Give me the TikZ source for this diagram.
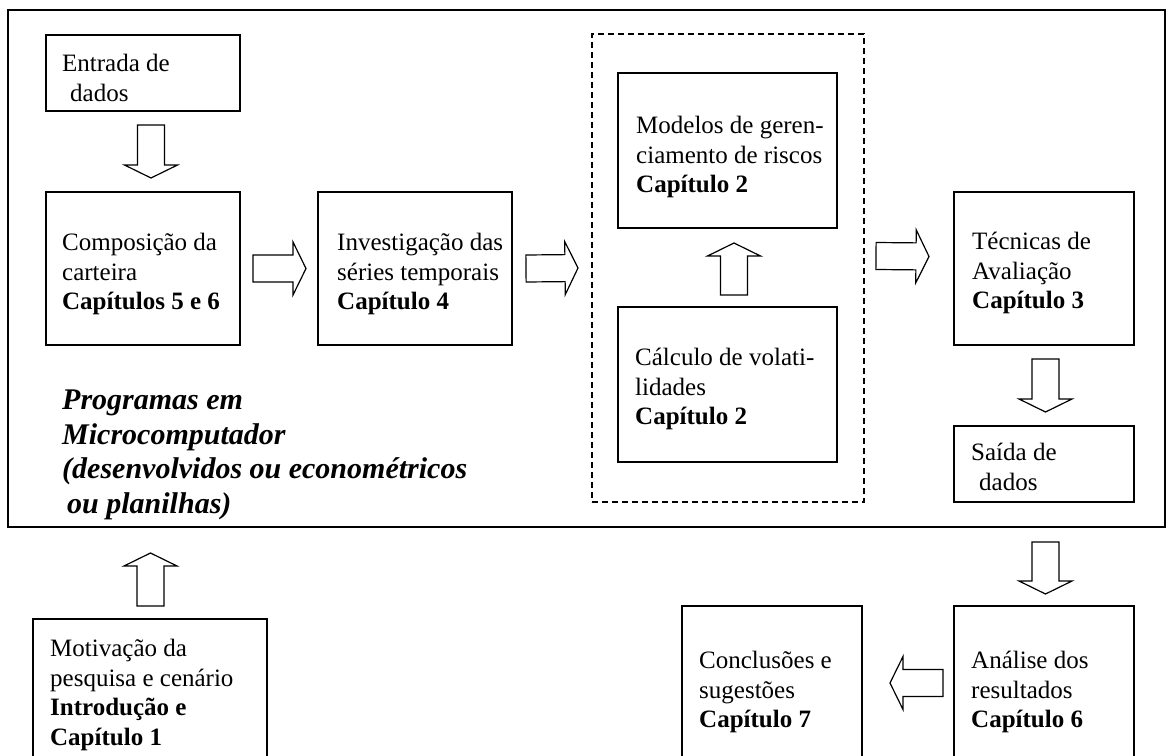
\documentclass[tikz,border=0pt]{standalone}
\usepackage{fontspec}
\setmainfont{Liberation Serif}
\usetikzlibrary{calc}
\tikzset{
  box/.style={draw, line width=1.2bp, inner sep=0pt, outer sep=0pt},
  dashbox/.style={draw, line width=2bp, dash pattern=on 6bp off 4bp, inner sep=0pt, outer sep=0pt},
  txt/.style={anchor=west, align=left, inner sep=0pt, font=\fontsize{25bp}{29.5bp}\selectfont},
  progtxt/.style={anchor=west, align=left, inner sep=0pt, font=\fontsize{30bp}{34.5bp}\selectfont\bfseries\itshape},
  blockarr/.style={draw, fill=white, line width=1.2bp, line join=miter},
}
\newcommand\blockarrow[2]{%
  \coordinate (ahbase) at ($(#2)!13bp!(#1)$);
  \draw[blockarr] ($(#1)!13.5bp!90:(#2)$) -- ($(ahbase)!13.5bp!-90:(#1)$) -- ($(ahbase)!26.5bp!-90:(#1)$) -- (#2) -- ($(ahbase)!26.5bp!90:(#1)$) -- ($(ahbase)!13.5bp!90:(#1)$) -- ($(#1)!13.5bp!-90:(#2)$) -- cycle;}
\begin{document}
\begin{tikzpicture}[x=1bp, y=-1bp]
\useasboundingbox (0,0) rectangle (1169,756);
\clip (0,0) rectangle (1169,756);
\fill[white] (0,0) rectangle (1169,756);

% frames
\node[box, line width=1.4bp, minimum width=1157bp, minimum height=517bp] (outer) at (586.5,268.5) {};
\node[dashbox, minimum width=272bp, minimum height=468bp] (dash) at (728,268) {};

% boxes
\node[box, minimum width=194bp, minimum height=76bp] (entrada) at (143,73) {};
\node[box, minimum width=194bp, minimum height=153bp] (comp) at (143,268.5) {};
\node[box, minimum width=194bp, minimum height=153bp] (inv) at (415,268.5) {};
\node[box, minimum width=219bp, minimum height=155bp] (mod) at (727.5,150.5) {};
\node[box, minimum width=219bp, minimum height=155bp] (vol) at (727.5,384.5) {};
\node[box, minimum width=180bp, minimum height=153bp] (tec) at (1044,268.5) {};
\node[box, minimum width=180bp, minimum height=76bp] (saida) at (1044,464) {};
\node[box, minimum width=234bp, minimum height=151bp] (mot) at (150,694.5) {};
\node[box, minimum width=180bp, minimum height=164bp] (conc) at (772,688) {};
\node[box, minimum width=180bp, minimum height=164bp] (ana) at (1044,688) {};

% texts
\node[txt] (entradaT) at (62,78) {Entrada de\\\hspace*{8bp}dados};
\node[txt] (compT) at (62,274) {Composição da\\carteira\\\textbf{Capítulos 5 e 6}};
\node[txt] (invT) at (337,274) {Investigação das\\séries temporais\\\textbf{Capítulo 4}};
\node[txt] (modT) at (636,157) {Modelos de geren-\\ciamento de riscos\\\textbf{Capítulo 2}};
\node[txt] (volT) at (635,389) {Cálculo de volati-\\lidades\\\textbf{Capítulo 2}};
\node[txt] (tecT) at (972,273) {Técnicas de\\Avaliação\\\textbf{Capítulo 3}};
\node[txt] (saidaT) at (971,467) {Saída de\\\hspace*{8bp}dados};
\node[progtxt] (progT) at (62,455) {Programas em\\Microcomputador\\(desenvolvidos ou econométricos\\\hspace*{5bp}ou planilhas)};
\node[txt] (motT) at (50,695) {Motivação da\\pesquisa e cenário\\\textbf{Introdução e}\\\textbf{Capítulo 1}};
\node[txt] (concT) at (699,692) {Conclusões e\\sugestões\\\textbf{Capítulo 7}};
\node[txt] (anaT) at (971,692) {Análise dos\\resultados\\\textbf{Capítulo 6}};

% block arrows
\coordinate (a1s) at ($(entrada.south)+(8bp,-14bp)$);
\coordinate (a1e) at ($(comp.north)+(8bp,14bp)$);
\blockarrow{a1s}{a1e}
\coordinate (a2s) at ($(comp.east)+(13bp,0bp)$);
\coordinate (a2e) at ($(inv.west)+(-12bp,0bp)$);
\blockarrow{a2s}{a2e}
\coordinate (a3s) at ($(inv.east)+(14bp,0bp)$);
\coordinate (a3e) at ($(dash.west)+(-14bp,0bp)$);
\blockarrow{a3s}{a3e}
\coordinate (a4s) at ($(vol.north)+(6.5bp,12bp)$);
\coordinate (a4e) at ($(mod.south)+(6.5bp,-15bp)$);
\blockarrow{a4s}{a4e}
\coordinate (a5s) at ($(dash.east)+(12bp,12bp)$);
\coordinate (a5e) at ($(tec.west)+(-25bp,12bp)$);
\blockarrow{a5s}{a5e}
\coordinate (a6s) at ($(tec.south)+(1.5bp,-14bp)$);
\coordinate (a6e) at ($(saida.north)+(1.5bp,14bp)$);
\blockarrow{a6s}{a6e}
\coordinate (a7s) at ($(ana.north)+(1.5bp,64bp)$);
\coordinate (a7e) at ($(ana.north)+(1.5bp,12bp)$);
\blockarrow{a7s}{a7e}
\coordinate (a8s) at ($(ana.west)+(-11bp,5bp)$);
\coordinate (a8e) at ($(conc.east)+(28bp,5bp)$);
\blockarrow{a8s}{a8e}
\coordinate (a9s) at ($(mot.north)+(0.5bp,13bp)$);
\coordinate (a9e) at ($(mot.north)+(0.5bp,66bp)$);
\blockarrow{a9s}{a9e}
\end{tikzpicture}
\end{document}
